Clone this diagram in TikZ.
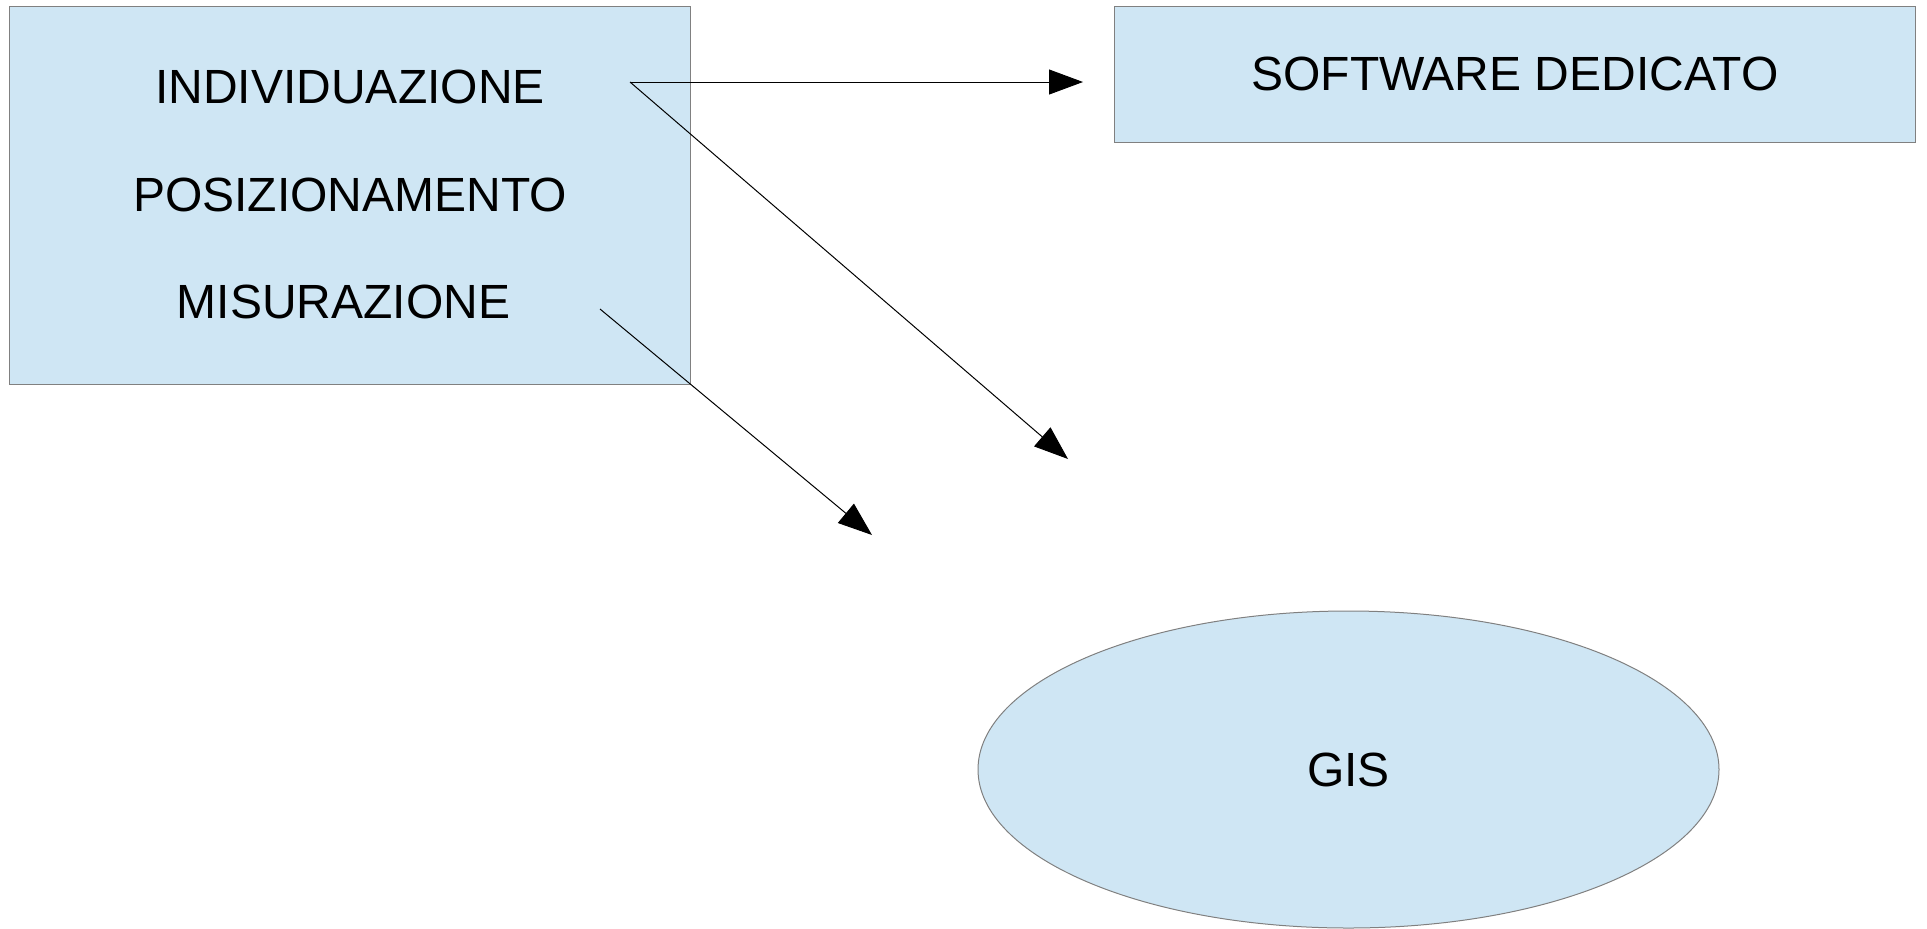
\documentclass[tikz,border=0pt]{standalone}
\usepackage{fontspec}
\setmainfont{Liberation Sans}
\usetikzlibrary{
arrows.meta,
shapes,
}
\definecolor{boxblue}{HTML}{CFE6F4}
\definecolor{boxline}{HTML}{808080}

\begin{document}
\begin{tikzpicture}[x=0.5pt, y=-0.5pt,
	every node/.style={font=\fontsize{24}{28}\selectfont},
	box/.style={draw=boxline, fill=boxblue, line width=0.5pt, inner sep=0pt},
	arr/.style={draw=black, line width=0.5pt, -{Triangle[length=17pt, width=12.5pt]}}]
			\useasboundingbox (0,0) rectangle (1927,928);

			\node[box, minimum width=340.4pt, minimum height=189.2pt] (steps) at (349.9,195.2) {};
			\node[box, minimum width=400.9pt, minimum height=68.2pt] (soft) at (1514.9,74.2) {SOFTWARE DEDICATO};
			\node[box, ellipse, minimum width=370.5pt, minimum height=158.5pt] (gis) at (1348.5,769.5) {GIS};

			\node (ind) at (350,86.5) {INDIVIDUAZIONE};
			\node (pos) at (350,194.8) {POSIZIONAMENTO};
			\node (mis) at (343.5,302) {MISURAZIONE};

			\coordinate (A) at (630,82);
			\coordinate (B) at (600,309);
			\coordinate (C) at (1083,82);
			\coordinate (D) at (1068,459);
			\coordinate (E) at (872,535);

			\draw[arr] (A) -- (C);
			\draw[arr] (A) -- (D);
			\draw[arr] (B) -- (E);
		\end{tikzpicture}
\end{document}
